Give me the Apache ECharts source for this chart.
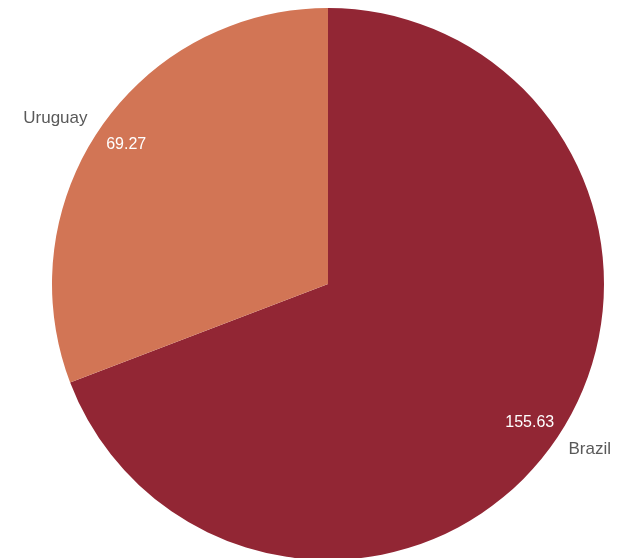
<!DOCTYPE html>
<html>
<head>
<meta charset="utf-8">
<script src="https://cdn.jsdelivr.net/npm/echarts@6/dist/echarts.min.js"></script>
<style>html,body{margin:0;padding:0;background:#fff;}#c{width:628px;height:558px;}</style>
</head>
<body>
<div id="c"></div>
<script>
var categories = ['Brazil', 'Uruguay'];
var values = [155.63, 69.27];
var colors = ['#922634', '#D27555'];

var data = categories.map(function (c, i) {
  return { name: c, value: values[i], itemStyle: { color: colors[i] } };
});
var chart = echarts.init(document.getElementById('c'), null, { renderer: 'canvas' });
chart.setOption({
  animation: false,
  backgroundColor: '#ffffff',
  series: [
    {
      type: 'pie',
      center: [328, 284],
      radius: [0, 276],
      startAngle: 90,
      clockwise: true,
      avoidLabelOverlap: false,
      data: data,
      itemStyle: { borderWidth: 0 },
      label: {
        show: true,
        position: 'outside',
        formatter: '{b}',
        color: '#595959',
        fontSize: 17,
        distanceToLabelLine: 0,
        fontFamily: 'Liberation Sans, Arial, sans-serif'
      },
      labelLine: { show: false, length: 16, length2: 0 },
      emphasis: { disabled: true }
    },
    {
      type: 'pie',
      center: [328, 284],
      radius: [208, 276],
      startAngle: 90,
      clockwise: true,
      silent: true,
      data: data.map(function (d) { return { name: d.name, value: d.value, itemStyle: { color: 'rgba(0,0,0,0)' } }; }),
      label: {
        show: true,
        position: 'inside',
        formatter: function (p) { return p.value.toFixed(2); },
        color: '#ffffff',
        fontSize: 16,
        fontFamily: 'Liberation Sans, Arial, sans-serif'
      },
      labelLine: { show: false },
      emphasis: { disabled: true }
    }
  ]
});
</script>
</body>
</html>
